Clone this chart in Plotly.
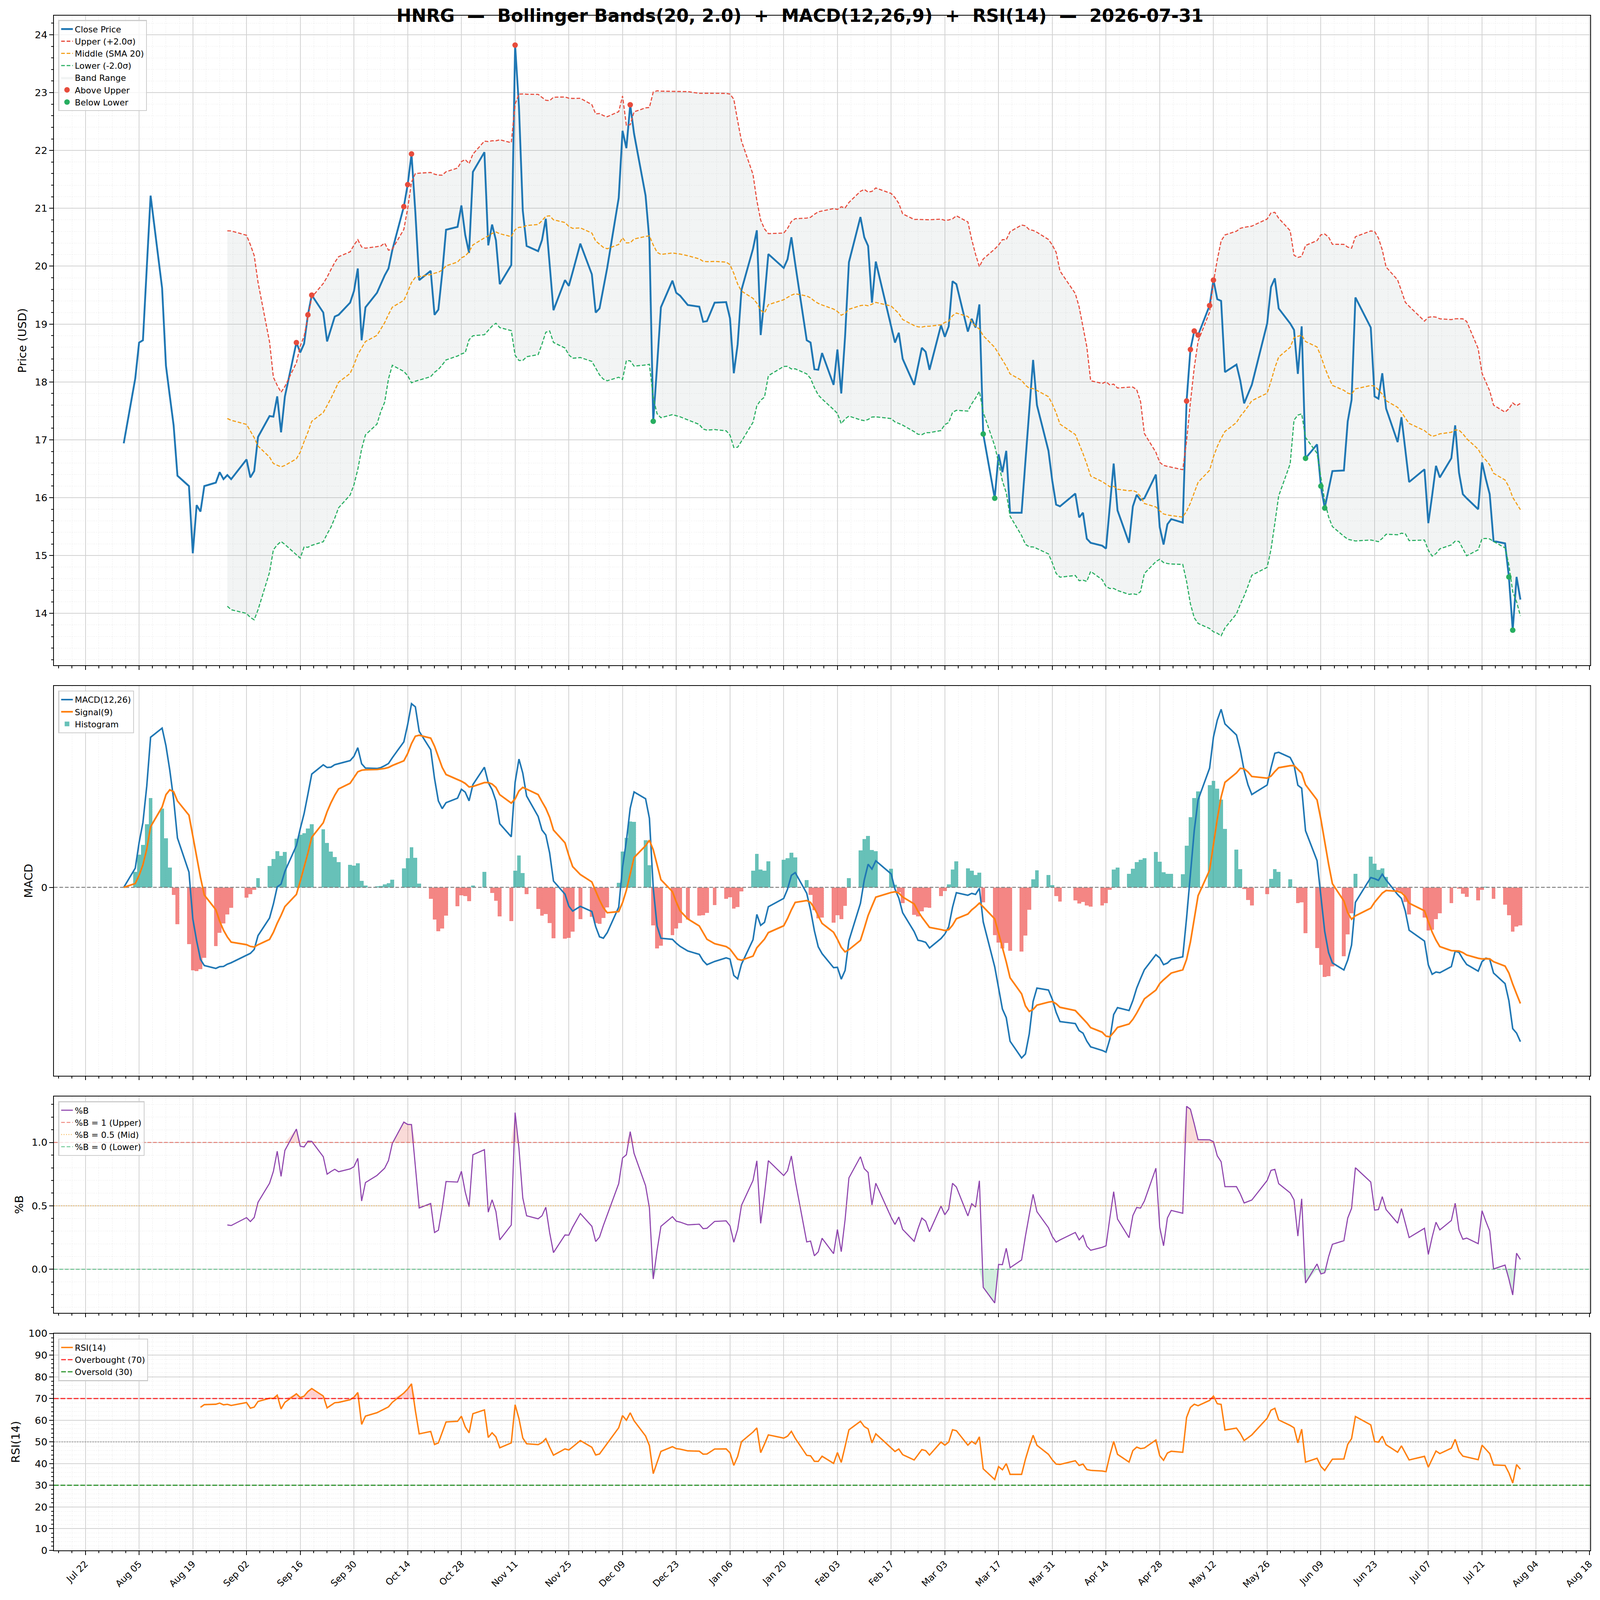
import numpy as np
import pandas as pd
import plotly.graph_objects as go

TICKER = "HNRG"
AS_OF = "2026-07-31"
FIRST_DAY = "2025-08-01"
BB_WINDOW, BB_K = 20, 2.0
MACD_FAST, MACD_SLOW, MACD_SIG = 12, 26, 9
RSI_N = 14

# Exchange holidays (no trading rows in the data)
holidays = ["2025-09-01", "2025-11-27", "2025-12-25", "2026-01-01", "2026-01-19",
            "2026-02-16", "2026-04-03", "2026-05-25", "2026-06-19", "2026-07-03"]

# Daily closes (trading days), month by month
close_2025_08 = [16.94, 18.06, 18.68, 18.72, 19.97, 21.22, 19.62, 18.28, 17.76, 17.25, 16.38,
                 16.20, 15.04, 15.87, 15.76, 16.20, 16.26, 16.44, 16.32, 16.39, 16.32]
close_2025_09 = [16.66, 16.35, 16.46, 17.05, 17.41, 17.40, 17.75, 17.13, 17.75, 18.68,
                 18.51, 18.66, 19.16, 19.50, 19.20, 18.70, 18.92, 19.13, 19.16, 19.37, 19.57]
close_2025_10 = [19.96, 18.72, 19.29, 19.54, 19.69, 19.84, 19.96, 20.28, 21.03, 21.41, 21.94,
                 20.93, 19.76, 19.92, 19.16, 19.25, 19.88, 20.63, 20.68, 21.05, 20.54, 20.23, 21.63]
close_2025_11 = [21.97, 20.36, 20.72, 20.45, 19.69, 20.02, 23.82, 22.76, 20.96, 20.35, 20.26,
                 20.45, 20.82, 20.03, 19.24, 19.76, 19.66, 19.90, 20.39]
close_2025_12 = [19.86, 19.20, 19.27, 19.62, 19.97, 21.18, 22.34, 22.04, 22.79, 22.29, 21.22,
                 20.45, 17.32, 18.28, 19.29, 19.75, 19.54, 19.49, 19.33, 19.30, 19.04, 19.05]
close_2026_01 = [19.37, 19.38, 19.10, 18.15, 18.65, 19.59, 20.30, 20.62, 18.81, 19.46,
                 20.21, 19.97, 20.12, 20.50, 20.04, 18.72, 18.68, 18.22, 18.21, 18.50]
close_2026_02 = [17.95, 18.56, 17.80, 18.79, 20.07, 20.85, 20.50, 20.35, 19.37, 20.08,
                 18.96, 18.68, 18.85, 18.40, 17.95, 18.28, 18.59, 18.52, 18.21]
close_2026_03 = [18.98, 18.78, 18.96, 19.74, 19.69, 18.87, 19.09, 18.94, 19.34, 17.10, 15.99,
                 16.75, 16.44, 16.81, 15.74, 15.74, 16.63, 17.50, 18.38, 17.60, 16.81, 16.29]
close_2026_04 = [15.88, 15.85, 16.07, 15.66, 15.74, 15.29, 15.22, 15.17, 15.12, 15.85,
                 16.59, 15.78, 15.22, 15.85, 16.05, 15.96, 15.99, 16.40, 15.49, 15.19, 15.54]
close_2026_05 = [15.63, 15.57, 17.67, 18.56, 18.88, 18.81, 19.32, 19.76, 19.43, 19.40, 18.17,
                 18.30, 18.02, 17.63, 17.79, 17.95, 19.01, 19.64, 19.79, 19.27]
close_2026_06 = [19.01, 18.90, 18.14, 18.96, 16.68, 16.92, 16.20, 15.82, 16.14, 16.46, 16.47,
                 17.32, 17.69, 19.46, 18.94, 17.75, 17.71, 18.15, 17.54, 16.96, 17.39]
close_2026_07 = [16.83, 16.27, 16.49, 15.56, 16.04, 16.55, 16.35, 16.68, 17.25, 16.43,
                 16.06, 15.99, 15.80, 16.61, 16.32, 16.06, 15.25, 15.21, 14.63, 13.71, 14.63, 14.24]

closes = (close_2025_08 + close_2025_09 + close_2025_10 + close_2025_11 + close_2025_12 +
          close_2026_01 + close_2026_02 + close_2026_03 + close_2026_04 + close_2026_05 +
          close_2026_06 + close_2026_07)
dates = pd.bdate_range(FIRST_DAY, AS_OF, freq="C", holidays=holidays)
s = pd.Series(closes, index=dates[:len(closes)])
dates = s.index

# ---- indicators ----
mid = s.rolling(BB_WINDOW).mean()
sd = s.rolling(BB_WINDOW).std()
upper = mid + BB_K * sd
lower = mid - BB_K * sd
pctb = (s - lower) / (upper - lower)

ema_f = s.ewm(span=MACD_FAST, adjust=False).mean()
ema_s = s.ewm(span=MACD_SLOW, adjust=False).mean()
macd = ema_f - ema_s
signal = macd.ewm(span=MACD_SIG, adjust=False).mean()
hist = macd - signal

delta = s.diff()
gain = delta.clip(lower=0)
loss = -delta.clip(upper=0)
ag = gain.ewm(alpha=1 / RSI_N, adjust=False, min_periods=RSI_N).mean()
al = loss.ewm(alpha=1 / RSI_N, adjust=False, min_periods=RSI_N).mean()
rsi = 100 - 100 / (1 + ag / al)

# ---- canvas / styling ----
W, H = 4096, 4096
SX, SY = W / 4378, H / 4322
K = (SX + SY) / 2          # size scale for fonts / strokes

FONT = "DejaVu Sans"
BLUE, ORANGE = "#1f77b4", "#ff7f0e"
RED, AMBER, GREEN = "#e74c3c", "#f39c12", "#27ae60"
PURPLE = "#8e44ad"
GRID = "#d2d2d2"
MINOR_GRID = "#e4e4e4"
DAY_MS = 86400000


def px(v):
    return v * K


def dash(a, b):
    return f"{a * K:.1f}px,{b * K:.1f}px"


span = dates[-1] - dates[0]
x0 = dates[0] - span * 0.05
x1 = dates[-1] + span * 0.05


def pad_range(vals, frac=0.05):
    vals = np.asarray(vals, dtype=float)
    vals = vals[~np.isnan(vals)]
    lo, hi = vals.min(), vals.max()
    p = (hi - lo) * frac
    return [lo - p, hi + p]


fig = go.Figure()

# ---------- Panel 1: price + Bollinger ----------
v = upper.notna()
dv = dates[v]
fig.add_trace(go.Scatter(x=dv, y=upper[v], mode="lines", line=dict(width=0, color=RED),
                         showlegend=False, hoverinfo="skip", xaxis="x", yaxis="y"))
fig.add_trace(go.Scatter(x=dv, y=lower[v], mode="lines", line=dict(width=0, color="rgba(149,165,166,0.3)"),
                         fill="tonexty", fillcolor="rgba(149,165,166,0.12)", name="Band Range",
                         legend="legend", legendrank=5, xaxis="x", yaxis="y"))
fig.add_trace(go.Scatter(x=dates, y=s, mode="lines", line=dict(color=BLUE, width=px(5)),
                         name="Close Price", legend="legend", legendrank=1, xaxis="x", yaxis="y"))
fig.add_trace(go.Scatter(x=dv, y=upper[v], mode="lines",
                         line=dict(color=RED, width=px(3), dash=dash(10, 5)),
                         name="Upper (+2.0σ)", legend="legend", legendrank=2, xaxis="x", yaxis="y"))
fig.add_trace(go.Scatter(x=dv, y=mid[v], mode="lines",
                         line=dict(color=AMBER, width=px(3), dash=dash(10, 5)),
                         name="Middle (SMA 20)", legend="legend", legendrank=3, xaxis="x", yaxis="y"))
fig.add_trace(go.Scatter(x=dv, y=lower[v], mode="lines",
                         line=dict(color=GREEN, width=px(3), dash=dash(10, 5)),
                         name="Lower (-2.0σ)", legend="legend", legendrank=4, xaxis="x", yaxis="y"))
above = s > upper
below = s < lower
fig.add_trace(go.Scatter(x=dates[above], y=s[above], mode="markers",
                         marker=dict(color=RED, size=px(15)), name="Above Upper",
                         legend="legend", legendrank=6, xaxis="x", yaxis="y"))
fig.add_trace(go.Scatter(x=dates[below], y=s[below], mode="markers",
                         marker=dict(color=GREEN, size=px(15)), name="Below Lower",
                         legend="legend", legendrank=7, xaxis="x", yaxis="y"))

# ---------- Panel 2: MACD ----------
pos = hist >= 0
fig.add_trace(go.Bar(x=dates[pos], y=hist[pos],
                     marker=dict(color="rgba(38,166,154,0.7)", line=dict(width=0)),
                     width=DAY_MS, name="Histogram", legend="legend2", legendrank=3,
                     xaxis="x2", yaxis="y2"))
fig.add_trace(go.Bar(x=dates[~pos], y=hist[~pos],
                     marker=dict(color="rgba(239,83,80,0.7)", line=dict(width=0)),
                     width=DAY_MS, showlegend=False, xaxis="x2", yaxis="y2"))
fig.add_trace(go.Scatter(x=[x0, x1], y=[0, 0], mode="lines",
                         line=dict(color="rgba(128,128,128,0.9)", width=px(2.8), dash=dash(10, 5)),
                         showlegend=False, hoverinfo="skip", xaxis="x2", yaxis="y2"))
fig.add_trace(go.Scatter(x=dates, y=macd, mode="lines", line=dict(color=BLUE, width=px(4.2)),
                         name="MACD(12,26)", legend="legend2", legendrank=1, xaxis="x2", yaxis="y2"))
fig.add_trace(go.Scatter(x=dates, y=signal, mode="lines", line=dict(color=ORANGE, width=px(4.5)),
                         name="Signal(9)", legend="legend2", legendrank=2, xaxis="x2", yaxis="y2"))

# ---------- Panel 3: %B ----------
vb = pctb.notna()
db = dates[vb]
pb = pctb[vb]
fig.add_trace(go.Scatter(x=db, y=np.ones(len(db)), mode="lines", line=dict(width=0),
                         showlegend=False, hoverinfo="skip", xaxis="x3", yaxis="y3"))
fig.add_trace(go.Scatter(x=db, y=np.maximum(pb, 1.0), mode="lines", line=dict(width=0),
                         fill="tonexty", fillcolor="rgba(231,76,60,0.2)",
                         showlegend=False, hoverinfo="skip", xaxis="x3", yaxis="y3"))
fig.add_trace(go.Scatter(x=db, y=np.zeros(len(db)), mode="lines", line=dict(width=0),
                         showlegend=False, hoverinfo="skip", xaxis="x3", yaxis="y3"))
fig.add_trace(go.Scatter(x=db, y=np.minimum(pb, 0.0), mode="lines", line=dict(width=0),
                         fill="tonexty", fillcolor="rgba(39,174,96,0.2)",
                         showlegend=False, hoverinfo="skip", xaxis="x3", yaxis="y3"))
fig.add_trace(go.Scatter(x=db, y=pb, mode="lines", line=dict(color=PURPLE, width=px(3)),
                         name="%B", legend="legend3", legendrank=1, xaxis="x3", yaxis="y3"))
fig.add_trace(go.Scatter(x=[x0, x1], y=[1, 1], mode="lines",
                         line=dict(color="rgba(231,76,60,0.7)", width=px(2.4), dash=dash(10, 5)),
                         name="%B = 1 (Upper)", legend="legend3", legendrank=2, xaxis="x3", yaxis="y3"))
fig.add_trace(go.Scatter(x=[x0, x1], y=[0.5, 0.5], mode="lines",
                         line=dict(color="rgba(243,156,18,0.7)", width=px(2.4), dash=dash(2.5, 4)),
                         name="%B = 0.5 (Mid)", legend="legend3", legendrank=3, xaxis="x3", yaxis="y3"))
fig.add_trace(go.Scatter(x=[x0, x1], y=[0, 0], mode="lines",
                         line=dict(color="rgba(39,174,96,0.7)", width=px(2.4), dash=dash(10, 5)),
                         name="%B = 0 (Lower)", legend="legend3", legendrank=4, xaxis="x3", yaxis="y3"))

# ---------- Panel 4: RSI ----------
vr = rsi.notna()
dr = dates[vr]
rr = rsi[vr]
fig.add_trace(go.Scatter(x=dr, y=np.full(len(dr), 70.0), mode="lines", line=dict(width=0),
                         showlegend=False, hoverinfo="skip", xaxis="x4", yaxis="y4"))
fig.add_trace(go.Scatter(x=dr, y=np.maximum(rr, 70.0), mode="lines", line=dict(width=0),
                         fill="tonexty", fillcolor="rgba(255,0,0,0.18)",
                         showlegend=False, hoverinfo="skip", xaxis="x4", yaxis="y4"))
fig.add_trace(go.Scatter(x=[x0, x1], y=[50, 50], mode="lines",
                         line=dict(color="rgba(128,128,128,0.7)", width=px(2.5), dash=dash(3, 4)),
                         showlegend=False, hoverinfo="skip", xaxis="x4", yaxis="y4"))
fig.add_trace(go.Scatter(x=dr, y=rr, mode="lines", line=dict(color=ORANGE, width=px(3.8)),
                         name="RSI(14)", legend="legend4", legendrank=1, xaxis="x4", yaxis="y4"))
fig.add_trace(go.Scatter(x=[x0, x1], y=[70, 70], mode="lines",
                         line=dict(color="rgba(255,0,0,0.8)", width=px(3.2), dash=dash(13, 5)),
                         name="Overbought (70)", legend="legend4", legendrank=2, xaxis="x4", yaxis="y4"))
fig.add_trace(go.Scatter(x=[x0, x1], y=[30, 30], mode="lines",
                         line=dict(color="rgba(0,128,0,0.8)", width=px(3.2), dash=dash(13, 5)),
                         name="Oversold (30)", legend="legend4", legendrank=3, xaxis="x4", yaxis="y4"))

# ---------- layout ----------
TICK0 = "2025-07-22"


def xaxis_cfg(anchor, labels):
    return dict(
        type="date", range=[x0, x1], domain=[0, 1], anchor=anchor,
        tick0=TICK0, dtick=14 * DAY_MS, tickformat="%b %d",
        showticklabels=labels, tickangle=-45, tickfont=dict(size=px(25)),
        showgrid=True, gridcolor=GRID, gridwidth=px(2.5),
        ticks="outside", ticklen=px(10), tickwidth=px(2.2), tickcolor="black",
        showline=True, linecolor="black", linewidth=px(2.5), mirror=True, zeroline=False,
        minor=dict(tick0=TICK0, dtick=3.5 * DAY_MS, ticks="outside", ticklen=px(5.5),
                   tickwidth=px(1.7), tickcolor="black", showgrid=True, gridcolor=MINOR_GRID,
                   griddash=dash(2, 3), gridwidth=px(1.5)),
    )


def yaxis_cfg(domain, rng, title, anchor, dtick=None, minor_dtick=None, grid=True, **kw):
    d = dict(
        domain=domain, range=rng, anchor=anchor,
        title=dict(text=title, font=dict(size=px(31)), standoff=px(14)),
        tickfont=dict(size=px(27)),
        showgrid=grid, gridcolor=GRID, gridwidth=px(2.5),
        ticks="outside", ticklen=px(10), tickwidth=px(2.2), tickcolor="black",
        showline=True, linecolor="black", linewidth=px(2.5), mirror=True, zeroline=False,
    )
    if dtick is not None:
        d["dtick"] = dtick
    if minor_dtick is not None:
        d["minor"] = dict(dtick=minor_dtick, ticks="outside", ticklen=px(5.5), tickwidth=px(1.7),
                          tickcolor="black", showgrid=True, gridcolor=MINOR_GRID,
                          griddash=dash(2, 3), gridwidth=px(1.5))
    d.update(kw)
    return d


price_rng = pad_range(np.concatenate([s.values, upper.dropna().values, lower.dropna().values]))
macd_rng = pad_range(np.concatenate([macd.values, signal.values, hist.values, [0.0]]))
pb_rng = pad_range(pb.values)

legend_common = dict(xanchor="left", yanchor="top", x=0.00285, traceorder="normal",
                     bgcolor="rgba(255,255,255,0.8)", bordercolor="#cccccc", borderwidth=px(2.5),
                     font=dict(size=px(23), family=FONT), itemwidth=30, tracegroupgap=0)

NB = "\u00a0\u00a0"
title_txt = ("<b>" + TICKER + NB + "—" + NB + "Bollinger Bands(20, 2.0)" + NB + "+" + NB +
             "MACD(12,26,9)" + NB + "+" + NB + "RSI(14)" + NB + "—" + NB + AS_OF + "</b>")

fig.update_layout(
    width=W, height=H,
    margin=dict(l=147 * SX, r=27 * SX, t=42.7 * SY, b=134 * SY, autoexpand=False),
    paper_bgcolor="white", plot_bgcolor="white",
    font=dict(family=FONT, size=px(27), color="black"),
    barmode="overlay", bargap=0,
    title=dict(text=title_txt, x=0.5, xref="container", xanchor="center",
               y=1 - 42.7 / 4322, yref="container", yanchor="middle",
               font=dict(size=px(48.5), family=FONT, color="black")),
    xaxis=xaxis_cfg("y", False),
    xaxis2=xaxis_cfg("y2", False),
    xaxis3=xaxis_cfg("y3", False),
    xaxis4=xaxis_cfg("y4", True),
    yaxis=yaxis_cfg([0.57667, 1.0], price_rng, "Price (USD)", "x", dtick=1, minor_dtick=0.2),
    yaxis2=yaxis_cfg([0.30929, 0.56321], macd_rng, "MACD", "x2", grid=False,
                     tickmode="array", tickvals=[0], ticktext=["0"]),
    yaxis3=yaxis_cfg([0.15479, 0.29573], pb_rng, "%B", "x3", dtick=0.5, minor_dtick=0.1,
                     tickformat=".1f"),
    yaxis4=yaxis_cfg([0.0, 0.14137], [0, 100], "RSI(14)", "x4", dtick=10, minor_dtick=2),
    legend=dict(legend_common, y=0.99710),
    legend2=dict(legend_common, y=0.56019),
    legend3=dict(legend_common, y=0.29264),
    legend4=dict(legend_common, y=0.13805),
    showlegend=True,
)

fig.write_html("out.html", config={"displayModeBar": False},
               post_script="document.body.style.margin='0px';")
